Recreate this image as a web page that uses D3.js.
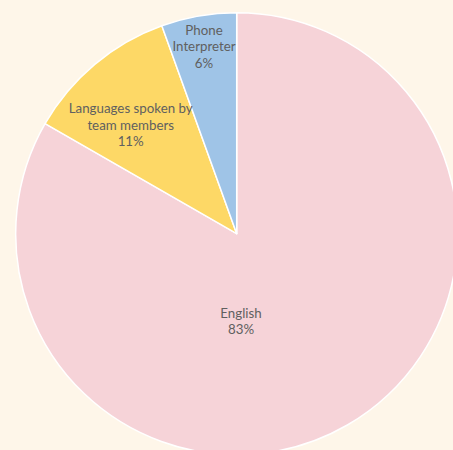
<!DOCTYPE html>
<html>
<head>
<meta charset="utf-8">
<script src="https://cdn.jsdelivr.net/npm/d3@7"></script>
<style>
  html, body { margin: 0; padding: 0; background: #FEF6E9; }
  svg { display: block; }
</style>
</head>
<body>
<svg id="chart" width="453" height="450"></svg>
<script>
// Data
const categories = ["English", "Languages spoken by team members", "Phone Interpreter"];
const values = [83.3, 11.2, 5.5];
const percentLabels = ["83%", "11%", "6%"];
const labelLines = [["English"], ["Languages spoken by", "team members"], ["Phone", "Interpreter"]];

// Styles / layout
const colors = ["#F6D3D8", "#FDD866", "#9FC4E7"];
const W = 453, H = 450;
const cx = 236.7, cy = 233.7, R = 221;
// label anchor positions relative to pie center (baseline of first line)
const labelOffsets = [[4.3, 84.3], [-106, -120.4], [-32.7, -198.7]];
const lineH = 16.3;

const svg = d3.select("#chart");
svg.append("rect").attr("width", W).attr("height", H).attr("fill", "#FEF6E9");

const pie = d3.pie().sort(null).value(d => d)(values);
const arc = d3.arc().innerRadius(0).outerRadius(R);

const g = svg.append("g").attr("transform", `translate(${cx},${cy})`);
g.selectAll("path").data(pie).join("path")
  .attr("d", arc)
  .attr("fill", (d, i) => colors[i])
  .attr("stroke", "#ffffff")
  .attr("stroke-width", 1.5)
  .attr("stroke-linejoin", "round");

pie.forEach((d, i) => {
  const lines = labelLines[i].concat([percentLabels[i]]);
  const t = g.append("text")
    .attr("text-anchor", "middle")
    .attr("font-family", "Lato, 'Open Sans', sans-serif")
    .attr("font-size", 13.3)
    .attr("fill", "#606060");
  lines.forEach((ln, k) => {
    t.append("tspan")
      .attr("x", labelOffsets[i][0])
      .attr("y", labelOffsets[i][1] + k * lineH)
      .text(ln);
  });
});
</script>
</body>
</html>
